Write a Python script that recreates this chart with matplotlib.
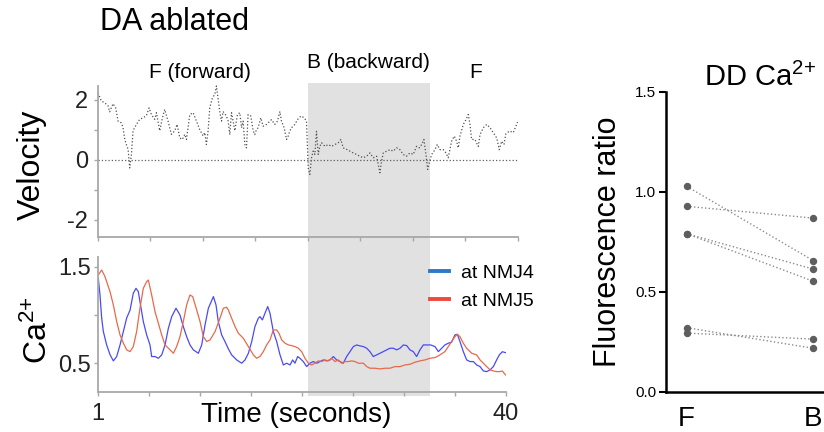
import numpy as np
import matplotlib
matplotlib.use("Agg")
import matplotlib.pyplot as plt
from matplotlib.lines import Line2D
from matplotlib.patches import Rectangle
from matplotlib import transforms

plt.rcParams['font.family'] = ['Liberation Sans', 'DejaVu Sans']
plt.rcParams['mathtext.fontset'] = 'custom'
plt.rcParams['mathtext.rm'] = 'Liberation Sans'
plt.rcParams['mathtext.it'] = 'Liberation Sans'

# velocity trace (time in s, velocity)
vel_t = [1.05, 1.36, 1.67, 1.98, 2.13, 2.44, 2.69, 2.91, 3.22, 3.37,
         3.53, 3.68, 3.84, 3.99, 4.15, 4.30, 4.61, 4.92, 5.23, 5.54,
         5.79, 6.00, 6.31, 6.47, 6.78, 7.03, 7.24, 7.55, 7.86, 8.17,
         8.39, 8.64, 8.88, 9.10, 9.26, 9.57, 9.88, 10.19, 10.49, 10.80,
         10.96, 11.11, 11.27, 11.42, 11.67, 11.89, 12.04, 12.20, 12.35, 12.51,
         12.66, 12.97, 13.13, 13.28, 13.44, 13.59, 13.75, 13.99, 14.21, 14.37,
         14.52, 14.68, 14.83, 14.98, 15.23, 15.45, 15.60, 15.76, 15.91, 16.16,
         16.38, 16.69, 17.00, 17.15, 17.46, 17.71, 17.93, 18.08, 18.33, 18.55,
         18.70, 18.86, 19.01, 19.32, 19.57, 19.88, 20.19, 20.40,
         20.56, 20.71, 20.87, 21.02, 21.18, 21.33, 21.49, 21.64, 21.80, 22.11,
         22.42, 22.73, 23.04, 23.35, 23.59, 23.81, 24.12, 24.43, 24.74, 25.05,
         25.36, 25.67, 25.98, 26.29, 26.60, 26.91, 27.22, 27.37, 27.53, 27.84,
         28.15, 28.45, 28.76, 29.07, 29.38, 29.69, 30.00, 30.31, 30.62, 30.87,
         31.09, 31.30, 31.49, 31.65, 31.80, 32.02, 32.33, 32.54, 32.79, 33.10,
         33.35, 33.56, 33.87, 34.12, 34.34, 34.49, 34.65, 34.96, 35.21, 35.42,
         35.58, 35.73, 36.04, 36.35, 36.51, 36.82, 37.13, 37.44, 37.75, 38.06,
         38.30, 38.52, 38.74, 38.90, 39.25, 39.60, 40.0]
vel_v = [2.22, 1.95, 1.89, 1.79, 1.59, 1.86, 1.72, 1.28, 1.22, 1.06,
         0.67, 0.50, 0.34, -0.28, 0.17, 0.96, 1.17, 1.34, 1.39, 1.46,
         1.72, 1.50, 1.34, 1.56, 0.96, 1.39, 1.67, 1.28, 0.84, 0.96,
         1.17, 0.72, 0.67, 0.84, 0.67, 1.50, 1.56, 1.28, 1.00, 0.79,
         0.90, 0.50, 0.96, 1.72, 2.06, 2.17, 2.45, 2.00, 1.60, 1.28,
         1.60, 1.45, 1.28, 0.83, 1.56, 1.28, 0.96, 1.50, 1.56, 1.06,
         1.28, 0.50, 0.39, 1.50, 1.45, 0.96, 0.83, 1.00, 1.06, 1.39,
         1.11, 1.17, 1.28, 1.33, 1.17, 1.28, 1.60, 1.28, 1.06, 0.67,
         0.78, 0.96, 1.06, 1.17, 1.33, 1.45, 1.39, 1.28,
         -0.28, -0.50, 0.06, 0.28, 0.17, 0.94, 0.17, 0.44, 0.56, 0.44,
         0.50, 0.44, 0.50, 0.56, 0.67, 0.39, 0.34, 0.28, 0.22, 0.17,
         0.11, 0.06, 0.11, 0.22, 0.06, 0.11, -0.44, -0.05, 0.22, 0.28,
         0.33, 0.28, 0.39, 0.33, 0.17, 0.11, 0.22, 0.17, 0.44, 0.39,
         0.50, 0.67, 0.17, -0.33, -0.11, 0.17, 0.33, 0.50, 0.33, 0.33,
         0.22, 0.06, 0.61, 0.78, 0.61, 0.39, 0.78, 1.17, 1.33, 1.50,
         1.17, 0.67, 0.67, 0.44, 0.83, 1.06, 1.17, 1.06, 0.89, 0.72,
         0.33, 0.61, 0.50, 0.85, 0.95, 0.90, 1.25]

# Ca2+ at NMJ4 (blue)
nmj4_t = [1.01, 1.17, 1.33, 1.49, 1.81, 2.13, 2.45, 2.77, 3.09, 3.41,
          3.73, 4.05, 4.36, 4.62, 4.84, 5.00, 5.32, 5.64, 5.96, 6.12,
          6.44, 6.76, 7.08, 7.40, 7.72, 8.04, 8.45, 8.83, 9.15, 9.47,
          9.79, 10.11, 10.59, 10.91, 11.23, 11.55, 12.03, 12.28, 12.50, 12.82,
          13.14, 13.46, 13.78, 14.26, 14.74, 15.06, 15.38, 15.70, 16.01, 16.33,
          16.49, 16.72, 16.97, 17.23, 17.45, 17.77, 18.09, 18.41, 18.73, 19.05,
          19.37, 19.62, 19.84, 20.10, 20.32, 20.64, 20.96, 21.28, 21.60, 21.92,
          22.24, 22.56, 22.88, 23.20, 23.52, 23.83, 24.15, 24.47, 24.79, 25.11,
          25.43, 25.75, 26.07, 26.39, 26.71, 27.02, 27.34, 27.66, 27.98, 28.30,
          28.62, 28.94, 29.26, 29.58, 29.90, 30.22, 30.54, 30.85, 31.17, 31.49,
          31.81, 32.13, 32.45, 32.83, 33.25, 33.57, 33.89, 34.20, 34.52, 34.84,
          35.16, 35.39, 35.64, 35.96, 36.28, 36.60, 36.92, 37.24, 37.56, 37.88,
          38.20, 38.52, 38.84, 39.15, 39.41, 39.70, 40.0]
nmj4_v = [1.38, 1.21, 0.97, 0.83, 0.69, 0.59, 0.525, 0.57, 0.69, 0.83,
          0.97, 1.05, 1.225, 1.276, 1.242, 1.138, 0.932, 0.794, 0.69, 0.57,
          0.57, 0.552, 0.587, 0.69, 0.863, 0.983, 1.07, 1.00, 0.88, 0.776,
          0.69, 0.639, 0.604, 0.69, 0.897, 1.07, 1.19, 1.104, 0.932, 0.794,
          0.725, 0.65, 0.587, 0.535, 0.501, 0.535, 0.604, 0.725, 0.88, 0.966,
          0.983, 0.949, 1.018, 1.087, 1.018, 0.828, 0.725, 0.587, 0.483, 0.501,
          0.483, 0.535, 0.501, 0.57, 0.552, 0.518, 0.466, 0.501, 0.518, 0.501,
          0.518, 0.535, 0.525, 0.535, 0.57, 0.535, 0.518, 0.501, 0.57, 0.621,
          0.673, 0.69, 0.68, 0.673, 0.656, 0.621, 0.57, 0.587, 0.604, 0.621,
          0.639, 0.656, 0.656, 0.639, 0.656, 0.69, 0.683, 0.639, 0.621, 0.57,
          0.639, 0.69, 0.69, 0.69, 0.673, 0.621, 0.656, 0.69, 0.708, 0.718,
          0.794, 0.80, 0.725, 0.621, 0.535, 0.518, 0.518, 0.483, 0.466, 0.421,
          0.414, 0.432, 0.466, 0.535, 0.587, 0.62, 0.61]

# Ca2+ at NMJ5 (red)
nmj5_t = [1.01, 1.33, 1.65, 2.13, 2.45, 2.77, 3.09, 3.41, 3.73, 4.05,
          4.36, 4.68, 5.00, 5.32, 5.64, 5.80, 6.12, 6.44, 6.76, 7.08,
          7.40, 7.88, 8.20, 8.51, 8.83, 9.15, 9.47, 9.79, 10.05, 10.43,
          10.75, 11.07, 11.39, 11.71, 12.19, 12.66, 12.98, 13.30, 13.46, 13.78,
          14.10, 14.42, 14.90, 15.38, 15.86, 16.17, 16.49, 16.81, 17.13, 17.45,
          17.77, 18.09, 18.31, 18.57, 18.89, 19.21, 19.53, 19.84, 20.16, 20.48,
          20.80, 21.12, 21.44, 21.76, 22.08, 22.40, 22.72, 23.04, 23.35, 23.67,
          23.99, 24.31, 24.63, 24.95, 25.27, 25.59, 25.91, 26.39, 26.71, 27.02,
          27.50, 27.98, 28.46, 28.94, 29.42, 29.90, 30.38, 30.85, 31.33, 31.81,
          32.29, 32.77, 33.25, 33.73, 34.20, 34.52, 34.84, 35.16, 35.39, 35.64,
          35.96, 36.28, 36.76, 37.24, 37.56, 37.88, 38.20, 38.52, 38.84, 39.15,
          39.41, 39.70, 40.0]
nmj5_v = [1.414, 1.466, 1.397, 1.242, 1.104, 0.932, 0.794, 0.708, 0.639, 0.621,
          0.673, 0.828, 1.07, 1.276, 1.345, 1.362, 1.207, 1.035, 0.914, 0.794,
          0.69, 0.639, 0.604, 0.673, 0.776, 0.932, 1.104, 1.207, 1.19, 1.052,
          0.932, 0.776, 0.725, 0.742, 0.828, 0.966, 1.07, 1.08, 1.052, 0.966,
          0.88, 0.811, 0.759, 0.673, 0.587, 0.552, 0.57, 0.621, 0.69, 0.742,
          0.845, 0.845, 0.811, 0.742, 0.708, 0.69, 0.683, 0.673, 0.656, 0.621,
          0.552, 0.501, 0.483, 0.501, 0.525, 0.518, 0.535, 0.525, 0.552, 0.518,
          0.535, 0.501, 0.518, 0.518, 0.525, 0.518, 0.501, 0.501, 0.466, 0.449,
          0.449, 0.442, 0.449, 0.449, 0.466, 0.466, 0.483, 0.49, 0.511, 0.525,
          0.535, 0.552, 0.559, 0.587, 0.621, 0.673, 0.725, 0.776, 0.80, 0.776,
          0.708, 0.656, 0.604, 0.587, 0.535, 0.501, 0.466, 0.432, 0.421, 0.414,
          0.414, 0.42, 0.38]

# backward episode (s)
backward = (20.53, 31.91)

# DD Ca2+ fluorescence ratio, paired forward / backward
groups = ['F', 'B']
ratio_f = [1.027, 0.927, 0.79, 0.79, 0.32, 0.293]
ratio_b = [0.655, 0.868, 0.613, 0.552, 0.217, 0.263]

W, H = 824, 432
fig = plt.figure(figsize=(W / 100, H / 100), dpi=100)


def box(x0, y0, x1, y1):
    # pixel box (top-left origin) -> figure fraction rect
    return [x0 / W, 1 - y1 / H, (x1 - x0) / W, (y1 - y0) / H]


ax_vel = fig.add_axes(box(97.5, 86, 517.6, 237))
ax_ca = fig.add_axes(box(98.2, 257, 505.5, 392.3))
ax_dd = fig.add_axes(box(666, 91.7, 824, 391.7))

time_ticks = np.linspace(1, 40, 9)
axis_grey = '#a8a8a8'

for ax in (ax_vel, ax_ca):
    ax.set_facecolor('none')
    for s in ('top', 'right'):
        ax.spines[s].set_visible(False)
    for s in ('left', 'bottom'):
        ax.spines[s].set_color(axis_grey)
        ax.spines[s].set_linewidth(1.3)
    ax.tick_params(length=3, width=1, color=axis_grey, labelsize=17,
                   labelcolor='#222222')
    ax.set_xlim(1, 40)
    ax.set_xticks(time_ticks)

# shaded backward window across both traces
shade = Rectangle((backward[0], 1 - 396 / H), backward[1] - backward[0],
                  (396 - 83) / H, facecolor='#e1e1e1', edgecolor='none',
                  zorder=-1,
                  transform=transforms.blended_transform_factory(
                      ax_vel.transData, fig.transFigure))
fig.add_artist(shade)

# velocity
ax_vel.plot(vel_t, vel_v, ls=':', color='#505050', lw=0.9, clip_on=False)
ax_vel.axhline(0, ls=':', color='#606060', lw=0.9)
ax_vel.set_ylim(-2.58, 2.45)
ax_vel.set_yticks([-2, -1, 0, 1, 2])
ax_vel.set_yticklabels(['-2', '', '0', '', '2'])
ax_vel.set_xticklabels([])
ax_vel.tick_params(axis='y', pad=4)

# calcium
ax_ca.plot(nmj4_t, nmj4_v, color='#4a4af5', lw=0.9)
ax_ca.plot(nmj5_t, nmj5_v, color='#e8694a', lw=0.9)
ax_ca.set_ylim(0.2, 1.6)
ax_ca.set_yticks([0.5, 1.0, 1.5])
ax_ca.set_yticklabels(['0.5', '', '1.5'])
ax_ca.set_xticklabels(['1'] + [''] * 7 + ['40'])
ax_ca.tick_params(axis='y', pad=2)
ax_ca.tick_params(axis='x', pad=5)

handles = [Line2D([], [], color='#2a7ac8', lw=2.8),
           Line2D([], [], color='#ee4a3c', lw=2.8)]
ax_ca.legend(handles, ['at NMJ4', 'at NMJ5'], loc='center left',
             bbox_to_anchor=(430 / W, 1 - 287 / H),
             bbox_transform=fig.transFigure, frameon=False, fontsize=14,
             borderpad=0, borderaxespad=0, handlelength=1.0,
             handletextpad=0.6, labelspacing=0.55)

ca_label = r'Ca$^{2{+}}$'

# panel labels
fig.text(100 / W, 1 - 22 / H, 'DA ablated', fontsize=22, ha='left',
         va='center')
fig.text(200 / W, 1 - 73 / H, 'F (forward)', fontsize=15, ha='center',
         va='center')
fig.text(368 / W, 1 - 63 / H, 'B (backward)', fontsize=15, ha='center',
         va='center')
fig.text(476 / W, 1 - 73 / H, 'F', fontsize=15, ha='center', va='center')
fig.text(32 / W, 1 - 165 / H, 'Velocity', fontsize=23, rotation=90,
         ha='center', va='center')
fig.text(38 / W, 1 - 330 / H, ca_label, fontsize=23,
         rotation=90, ha='center', va='center')
fig.text(296 / W, 1 - 415 / H, 'Time (seconds)', fontsize=20, ha='center',
         va='center')

# paired fluorescence ratios
for f, b in zip(ratio_f, ratio_b):
    ax_dd.plot([0, 1], [f, b], ls=':', color='#8c8c8c', lw=1.0,
               marker='o', ms=4.3, mfc='#5e5e5e', mec='#5e5e5e',
               clip_on=False)
ax_dd.set_xlim(-0.163, 1.084)
ax_dd.set_ylim(0, 1.5)
ax_dd.set_xticks([0, 1])
ax_dd.set_xticklabels(groups)
ax_dd.set_yticks([0, 0.5, 1.0, 1.5])
ax_dd.set_yticklabels(['0.0', '0.5', '1.0', '1.5'])
for s in ('top', 'right'):
    ax_dd.spines[s].set_visible(False)
for s in ('left', 'bottom'):
    ax_dd.spines[s].set_linewidth(1.8)
ax_dd.tick_params(axis='y', length=5, width=1.5, labelsize=11, pad=2)
ax_dd.tick_params(axis='x', length=0, labelsize=20, pad=10)
ax_dd.set_facecolor('none')
fig.text(608 / W, 1 - 242 / H, 'Fluorescence ratio', fontsize=22,
         rotation=90, ha='center', va='center')
fig.text(760 / W, 1 - 77 / H, 'DD ' + ca_label, fontsize=21,
         ha='center', va='center')

fig.savefig('out.png', dpi=100)
